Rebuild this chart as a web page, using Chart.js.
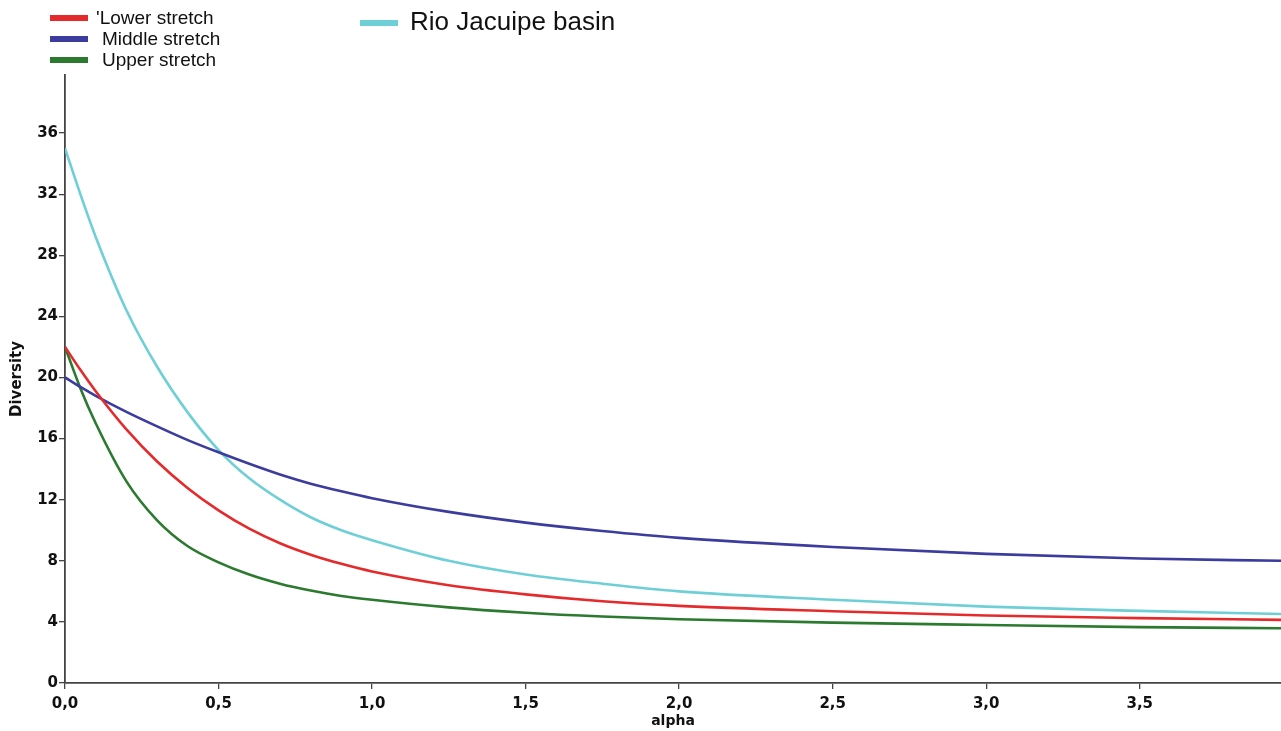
<!DOCTYPE html>
<html>
<head>
<meta charset="utf-8">
<script src="https://cdn.jsdelivr.net/npm/chart.js@4.4.1/dist/chart.umd.min.js"></script>
<style>
  body { margin: 0; background: #fff; }
  #wrap { position: relative; width: 1281px; height: 731px; }
  .leg { position: absolute; font-family: "Liberation Sans", Arial, sans-serif; color: #111; white-space: nowrap; }
</style>
</head>
<body>
<div id="wrap">
  <canvas id="grafico" width="1281" height="731"></canvas>
  <div id="legenda"></div>
</div>
<script>
// alpha (eixo x)
const alphas = [0, 0.05, 0.1, 0.2, 0.3, 0.4, 0.5, 0.6, 0.7, 0.8, 0.9, 1.0, 1.25, 1.5, 1.75, 2.0, 2.5, 3.0, 3.5, 3.96];

// perfis de diversidade
const lowerStretch  = [22, 20.5, 19.1, 16.6, 14.5, 12.75, 11.3, 10.1, 9.15, 8.4, 7.8, 7.3, 6.4, 5.8, 5.35, 5.05, 4.7, 4.42, 4.25, 4.13];
const middleStretch = [20, 19.38, 18.8, 17.75, 16.8, 15.9, 15.1, 14.35, 13.65, 13.05, 12.55, 12.1, 11.2, 10.5, 9.95, 9.5, 8.9, 8.45, 8.15, 8.0];
const upperStretch  = [22, 19.3, 17.0, 13.2, 10.65, 8.95, 7.9, 7.1, 6.5, 6.05, 5.7, 5.45, 4.95, 4.6, 4.35, 4.17, 3.95, 3.8, 3.66, 3.58];
const rioJacuipe    = [35, 32.0, 29.2, 24.4, 20.7, 17.7, 15.25, 13.4, 12.0, 10.85, 10.0, 9.35, 8.0, 7.1, 6.5, 6.0, 5.45, 5.0, 4.72, 4.52];

const xTicks = [0, 0.5, 1.0, 1.5, 2.0, 2.5, 3.0, 3.5];
const yTicks = [0, 4, 8, 12, 16, 20, 24, 28, 32, 36];

const series = [
    { label: "Lower stretch", data: lowerStretch, color: "#e52a2b" },
    { label: "Middle stretch", data: middleStretch, color: "#3b3c9e" },
    { label: "Upper stretch", data: upperStretch, color: "#2b7a2f" },
    { label: "Rio Jacuipe basin", data: rioJacuipe, color: "#6fcfd7" }
];

function montarLegenda() {
    const leg = document.getElementById("legenda");
    const pos = [
        { x: 50, y: 18, text: "'Lower stretch", tx: 96, size: 19 },
        { x: 50, y: 39, text: "Middle stretch", tx: 102, size: 19 },
        { x: 50, y: 60, text: "Upper stretch", tx: 102, size: 19 },
        { x: 360, y: 23, text: "Rio Jacuipe basin", tx: 410, size: 26 }
    ];
    series.forEach((s, i) => {
        const p = pos[i];
        const sw = document.createElement("div");
        sw.className = "leg";
        sw.style.left = p.x + "px";
        sw.style.top = (p.y - 3) + "px";
        sw.style.width = "38px";
        sw.style.height = "6px";
        sw.style.background = s.color;
        leg.appendChild(sw);

        const t = document.createElement("div");
        t.className = "leg";
        t.style.left = p.tx + "px";
        t.style.top = (p.y - p.size * 0.6) + "px";
        t.style.fontSize = p.size + "px";
        t.style.lineHeight = (p.size * 1.15) + "px";
        t.textContent = p.text;
        leg.appendChild(t);
    });
}

function desenharGrafico() {
    const ctx = document.getElementById("grafico").getContext("2d");
    const familia = "'DejaVu Sans', sans-serif";
    const fonte = { family: familia, size: 15, weight: "bold" };

    new Chart(ctx, {
        type: "line",
        data: {
            datasets: series.map(s => ({
                label: s.label,
                data: alphas.map((a, i) => ({ x: a, y: s.data[i] })),
                borderColor: s.color,
                borderWidth: 2.6,
                pointRadius: 0,
                fill: false,
                cubicInterpolationMode: "monotone"
            }))
        },
        options: {
            responsive: false,
            animation: false,
            layout: { padding: { top: 75, right: 0, left: 0, bottom: 0 } },
            plugins: {
                legend: { display: false },
                tooltip: { enabled: false }
            },
            scales: {
                x: {
                    type: "linear",
                    min: 0,
                    max: 3.96,
                    afterBuildTicks: (s) => { s.ticks = xTicks.map(v => ({ value: v })); },
                    afterFit: (s) => { s.height = 48; },
                    ticks: {
                        color: "#111",
                        font: fonte,
                        padding: 6,
                        maxRotation: 0,
                        autoSkip: false,
                        callback: (v) => v.toFixed(1).replace(".", ",")
                    },
                    grid: { drawOnChartArea: false, color: "#444", tickLength: 6, lineWidth: 1.3 },
                    border: { color: "#444", width: 1.8 },
                    title: { display: true, text: "alpha", color: "#111", font: { family: familia, size: 14, weight: "bold" }, padding: { top: 0, bottom: 1 } }
                },
                y: {
                    min: 0,
                    max: 39.8,
                    afterBuildTicks: (s) => { s.ticks = yTicks.map(v => ({ value: v })); },
                    afterFit: (s) => { s.width = 65; },
                    ticks: { color: "#111", font: fonte, padding: 1, autoSkip: false },
                    grid: { drawOnChartArea: false, color: "#444", tickLength: 6, lineWidth: 1.3 },
                    border: { color: "#444", width: 1.8 },
                    title: { display: true, text: "Diversity", color: "#111", font: { family: familia, size: 15, weight: "bold" }, padding: { top: 8, bottom: 0 } }
                }
            }
        }
    });
}

montarLegenda();
desenharGrafico();
</script>
</body>
</html>
